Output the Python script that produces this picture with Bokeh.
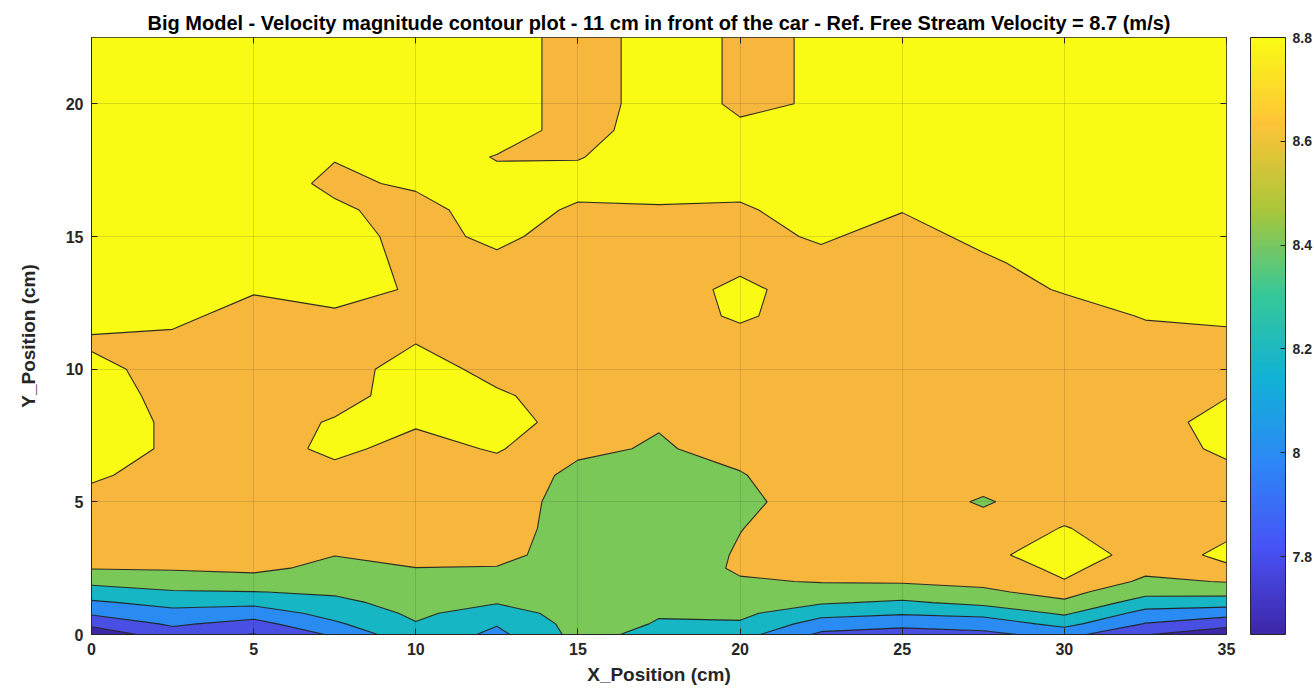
import numpy as np
from bokeh.plotting import figure
from bokeh.models import (Range1d, ColorBar, LinearColorMapper, FixedTicker, CustomJSTickFormatter,
                          LinearAxis)
from bokeh.embed import file_html
from bokeh.resources import INLINE

# ---- measurement grid (cm) ----
x_cm = [0, 2.5, 5, 7.5, 10, 12.5, 15, 17.5, 20, 22.5, 25, 27.5, 30, 32.5, 35]
y_cm = [0, 0.4, 0.8, 1.2, 1.6, 2.0, 2.5, 3, 4, 5, 6, 7, 8, 9, 10, 11, 12, 13, 14, 15,
        16, 17, 18, 19, 20, 21, 22.5]

# ---- velocity magnitude (m/s), one list per x position, bottom -> top ----
v_x00_0 = [7.66, 7.85, 8.03, 8.17, 8.31, 8.45, 8.61, 8.68, 8.70, 8.73, 8.83, 8.90, 8.90, 8.88,
           8.86, 8.77, 8.87, 8.90, 8.90, 8.90, 8.90, 8.90, 8.90, 8.90, 8.90, 8.90, 8.90]
v_x02_5 = [7.91, 8.03, 8.14, 8.26, 8.385, 8.49, 8.62, 8.68, 8.70, 8.70, 8.72, 8.77, 8.77, 8.75,
           8.72, 8.75, 8.85, 8.90, 8.90, 8.90, 8.90, 8.90, 8.90, 8.90, 8.90, 8.90, 8.90]
v_x05_0 = [7.79, 7.93, 8.09, 8.25, 8.395, 8.51, 8.65, 8.70, 8.70, 8.70, 8.70, 8.70, 8.70, 8.70,
           8.70, 8.70, 8.72, 8.82, 8.90, 8.90, 8.90, 8.90, 8.90, 8.90, 8.90, 8.90, 8.90]
v_x07_5 = [8.03, 8.17, 8.27, 8.355, 8.425, 8.475, 8.54, 8.605, 8.68, 8.70, 8.73, 8.85, 8.82, 8.72,
           8.70, 8.70, 8.77, 8.87, 8.90, 8.90, 8.83, 8.76, 8.81, 8.90, 8.90, 8.90, 8.90]
v_x10_0 = [8.35, 8.39, 8.435, 8.47, 8.51, 8.55, 8.598, 8.65, 8.70, 8.70, 8.70, 8.725, 8.825, 8.90,
           8.90, 8.795, 8.78, 8.78, 8.75, 8.72, 8.73, 8.83, 8.90, 8.90, 8.90, 8.90, 8.90]
v_x12_5 = [8.15, 8.215, 8.31, 8.41, 8.46, 8.52, 8.59, 8.66, 8.70, 8.70, 8.70, 8.82, 8.90, 8.83,
           8.73, 8.70, 8.70, 8.70, 8.75, 8.85, 8.90, 8.85, 8.79, 8.90, 8.90, 8.90, 8.90]
v_x15_0 = [8.46, 8.47, 8.48, 8.49, 8.50, 8.50, 8.50, 8.50, 8.50, 8.52, 8.56, 8.63, 8.70, 8.70,
           8.70, 8.70, 8.70, 8.70, 8.70, 8.70, 8.77, 8.87, 8.79, 8.72, 8.72, 8.72, 8.72]
v_x17_5 = [8.345, 8.39, 8.41, 8.42, 8.43, 8.44, 8.46, 8.47, 8.50, 8.52, 8.55, 8.585, 8.61, 8.70,
           8.70, 8.70, 8.70, 8.70, 8.70, 8.70, 8.78, 8.88, 8.90, 8.90, 8.87, 8.87, 8.87]
v_x20_0 = [8.28, 8.38, 8.44, 8.49, 8.54, 8.58, 8.63, 8.62, 8.595, 8.55, 8.59, 8.65, 8.70, 8.70,
           8.70, 8.72, 8.83, 8.85, 8.75, 8.72, 8.77, 8.87, 8.90, 8.82, 8.78, 8.78, 8.78]
v_x22_5 = [7.96, 8.11, 8.267, 8.42, 8.52, 8.61, 8.66, 8.70, 8.70, 8.70, 8.70, 8.70, 8.70, 8.70,
           8.70, 8.70, 8.70, 8.70, 8.73, 8.83, 8.90, 8.90, 8.90, 8.88, 8.81, 8.81, 8.81]
v_x25_0 = [7.90, 8.06, 8.22, 8.37, 8.50, 8.62, 8.67, 8.70, 8.70, 8.70, 8.70, 8.70, 8.70, 8.70,
           8.70, 8.70, 8.70, 8.70, 8.70, 8.71, 8.81, 8.90, 8.90, 8.90, 8.90, 8.90, 8.90]
v_x27_5 = [7.95, 8.09, 8.26, 8.45, 8.57, 8.64, 8.68, 8.75, 8.68, 8.58, 8.68, 8.70, 8.70, 8.70,
           8.70, 8.70, 8.70, 8.70, 8.76, 8.86, 8.90, 8.90, 8.90, 8.90, 8.90, 8.90, 8.90]
v_x30_0 = [8.07, 8.26, 8.43, 8.57, 8.66, 8.79, 8.85, 8.90, 8.81, 8.71, 8.70, 8.70, 8.70, 8.70,
           8.70, 8.70, 8.70, 8.82, 8.90, 8.90, 8.90, 8.90, 8.90, 8.90, 8.90, 8.90, 8.90]
v_x32_5 = [7.81, 7.99, 8.13, 8.31, 8.46, 8.56, 8.66, 8.73, 8.70, 8.70, 8.70, 8.70, 8.70, 8.70,
           8.70, 8.715, 8.815, 8.90, 8.90, 8.90, 8.90, 8.90, 8.90, 8.90, 8.90, 8.90, 8.90]
v_x35_0 = [7.66, 7.87, 8.075, 8.29, 8.47, 8.61, 8.78, 8.83, 8.77, 8.70, 8.74, 8.84, 8.89, 8.79,
           8.70, 8.74, 8.84, 8.90, 8.90, 8.90, 8.90, 8.90, 8.90, 8.90, 8.90, 8.90, 8.90]

contour_levels = [7.6, 7.8, 8.0, 8.2, 8.4, 8.6, 8.8, 9.0]
cbar_low, cbar_high = 7.65, 8.8
cbar_ticks = [7.8, 8.0, 8.2, 8.4, 8.6, 8.8]
x_ticks = [0, 5, 10, 15, 20, 25, 30, 35]
y_ticks = [0, 5, 10, 15, 20]

title_text = ("Big Model - Velocity magnitude contour plot - 11 cm in front of the car - "
              "Ref. Free Stream Velocity = 8.7 (m/s)")

# ---- styling ----
fill_colors = ["#3E26A8", "#4A4FE3", "#2A8CF2", "#17B6C4", "#7AC858", "#F7B73D", "#F9FB15"]
parula_anchors = [(0.2422, 0.1504, 0.6603), (0.2810, 0.3228, 0.9579), (0.1786, 0.5289, 0.9682),
                  (0.0689, 0.6948, 0.8394), (0.2161, 0.7843, 0.5923), (0.6720, 0.7793, 0.2227),
                  (0.9970, 0.7659, 0.2199), (0.9769, 0.9839, 0.0805)]


def make_palette(anchors, n=256):
    a = np.array(anchors)
    pos = np.linspace(0, 1, len(a))
    t = np.linspace(0, 1, n)
    cols = [np.interp(t, pos, a[:, k]) for k in range(3)]
    return ["#%02x%02x%02x" % tuple(int(round(255 * c[i])) for c in cols) for i in range(n)]


palette = make_palette(parula_anchors)
FONT = "Liberation Sans"
AX = "#262626"

Z = np.column_stack([v_x00_0, v_x02_5, v_x05_0, v_x07_5, v_x10_0, v_x12_5, v_x15_0, v_x17_5,
                     v_x20_0, v_x22_5, v_x25_0, v_x27_5, v_x30_0, v_x32_5, v_x35_0])

p = figure(width=1314, height=697, output_backend="svg", toolbar_location=None,
           x_range=Range1d(0, 35), y_range=Range1d(0, 22.5),
           min_border_left=91, min_border_right=88, min_border_top=37, min_border_bottom=63)

p.contour(x=x_cm, y=y_cm, z=Z, levels=contour_levels, fill_color=fill_colors,
          line_color="#1a1a1a", line_width=1.1, line_alpha=0.9)

p.title.text = title_text
p.title.align = "center"
p.title.text_font = FONT
p.title.text_font_size = "20px"
p.title.text_font_style = "bold"
p.title.text_color = "#000000"
p.title.standoff = 8

p.xaxis.ticker = FixedTicker(ticks=x_ticks)
p.yaxis.ticker = FixedTicker(ticks=y_ticks)
p.xaxis.axis_label = "X_Position (cm)"
p.yaxis.axis_label = "Y_Position (cm)"
for ax in (p.xaxis, p.yaxis):
    ax.axis_label_text_font = FONT
    ax.axis_label_text_font_size = "19px"
    ax.axis_label_text_font_style = "bold"
    ax.axis_label_text_color = AX
    ax.major_label_text_font = FONT
    ax.major_label_text_font_size = "16px"
    ax.major_label_text_font_style = "bold"
    ax.major_label_text_color = AX
    ax.axis_line_color = AX
    ax.major_tick_line_color = AX
    ax.major_tick_in = 6
    ax.major_tick_out = 0
    ax.minor_tick_line_color = None
    ax.major_label_standoff = 8
p.xaxis.axis_label_standoff = 6
p.yaxis.axis_label_standoff = 24

# tick marks on the top and right edges of the box (no labels)
blank = CustomJSTickFormatter(code="return ''")
top_ax = LinearAxis(ticker=FixedTicker(ticks=x_ticks), formatter=blank,
                    major_tick_in=6, major_tick_out=0, minor_tick_line_color=None,
                    major_tick_line_color=AX, axis_line_color=None,
                    major_label_standoff=0, major_label_text_font_size="1px")
right_ax = LinearAxis(ticker=FixedTicker(ticks=y_ticks), formatter=blank,
                      major_tick_in=6, major_tick_out=0, minor_tick_line_color=None,
                      major_tick_line_color=AX, axis_line_color=None,
                      major_label_standoff=0, major_label_text_font_size="1px")
p.add_layout(top_ax, "above")
p.add_layout(right_ax, "right")

p.grid.level = "overlay"
p.grid.grid_line_color = AX
p.grid.grid_line_alpha = 0.15
p.grid.grid_line_width = 1

p.outline_line_color = AX
p.outline_line_width = 1
p.outline_line_alpha = 1

mapper = LinearColorMapper(palette=palette, low=cbar_low, high=cbar_high)
cb = ColorBar(color_mapper=mapper, ticker=FixedTicker(ticks=cbar_ticks),
              formatter=CustomJSTickFormatter(code="return tick.toFixed(1).replace('.0','')"),
              width=35, height=597, location=(24, 0), padding=0, margin=0,
              bar_line_color=AX, major_tick_line_color=AX, major_tick_in=5, major_tick_out=0,
              minor_tick_line_color=None,
              major_label_text_font=FONT, major_label_text_font_size="14px",
              major_label_text_font_style="bold", major_label_text_color=AX,
              label_standoff=7, background_fill_alpha=0, border_line_color=None)
p.add_layout(cb, "right")

open("out.html", "w").write(file_html(p, INLINE))
